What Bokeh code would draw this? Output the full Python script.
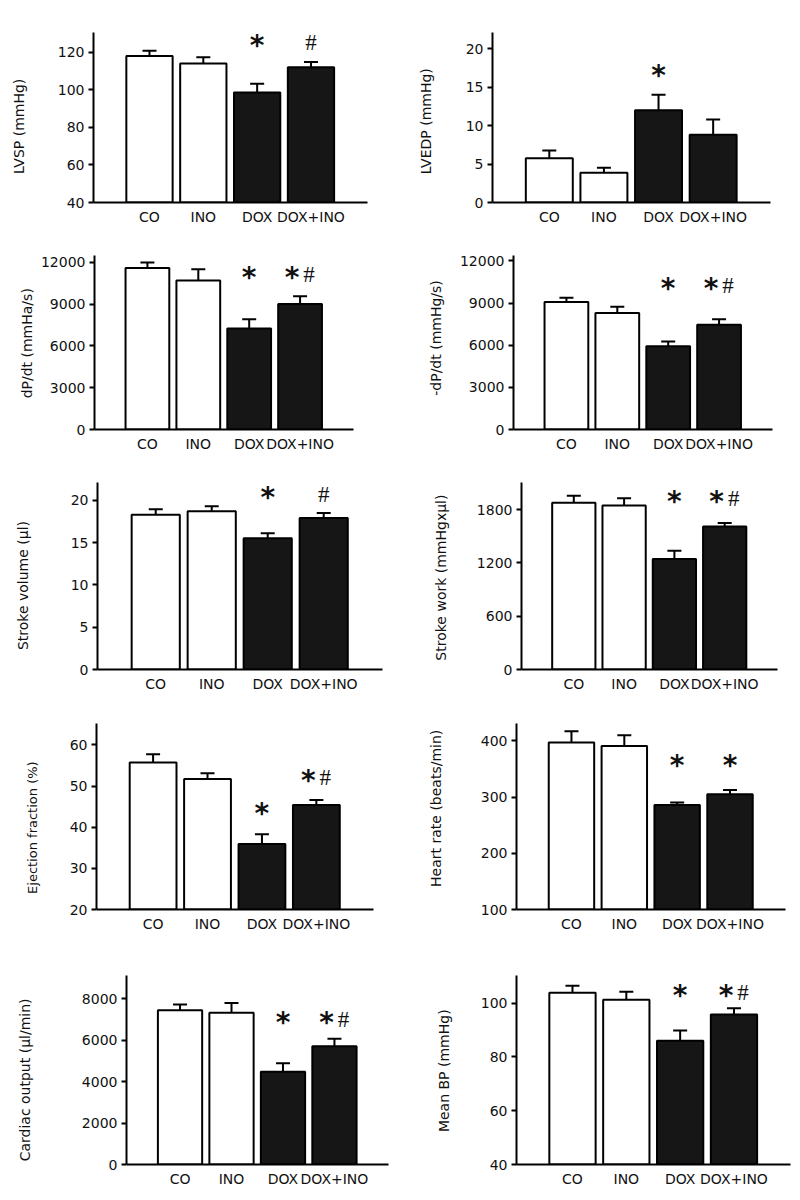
import math
from bokeh.plotting import figure
from bokeh.layouts import column, row
from bokeh.models import FixedTicker, ColumnDataSource, Range1d
from bokeh.core.properties import value
from bokeh.embed import file_html
from bokeh.resources import INLINE

# ---------------- data ----------------
groups = ["CO", "INO", "DOX", "DOX+INO"]
bar_colors = ["white", "white", "#161616", "#161616"]

lvsp_mean = [118, 114, 98.6, 112]
lvsp_sem = [2.8, 3.3, 4.6, 2.8]
lvsp_marks = ["", "", "*", "#"]
lvsp_ticks = [40, 60, 80, 100, 120]

lvedp_mean = [5.75, 3.86, 12.0, 8.8]
lvedp_sem = [1.0, 0.65, 2.0, 2.0]
lvedp_marks = ["", "", "*", ""]
lvedp_ticks = [0, 5, 10, 15, 20]

dpdt_mean = [11600, 10700, 7250, 9020]
dpdt_sem = [400, 820, 670, 560]
dpdt_marks = ["", "", "*", "*#"]
dpdt_ticks = [0, 3000, 6000, 9000, 12000]

ndpdt_mean = [9080, 8290, 5930, 7460]
ndpdt_sem = [290, 450, 340, 380]
ndpdt_marks = ["", "", "*", "*#"]
ndpdt_ticks = [0, 3000, 6000, 9000, 12000]

sv_mean = [18.3, 18.7, 15.5, 17.9]
sv_sem = [0.65, 0.6, 0.6, 0.6]
sv_marks = ["", "", "*", "#"]
sv_ticks = [0, 5, 10, 15, 20]

sw_mean = [1880, 1848, 1245, 1612]
sw_sem = [77, 82, 93, 40]
sw_marks = ["", "", "*", "*#"]
sw_ticks = [0, 600, 1200, 1800]

ef_mean = [55.7, 51.7, 35.9, 45.4]
ef_sem = [2.0, 1.4, 2.4, 1.2]
ef_marks = ["", "", "*", "*#"]
ef_ticks = [20, 30, 40, 50, 60]

hr_mean = [397, 391, 286, 305]
hr_sem = [20, 19, 4.6, 7.6]
hr_marks = ["", "", "*", "*"]
hr_ticks = [100, 200, 300, 400]

co_mean = [7440, 7315, 4465, 5700]
co_sem = [270, 475, 415, 367]
co_marks = ["", "", "*", "*#"]
co_ticks = [0, 2000, 4000, 6000, 8000]

bp_mean = [103.9, 101.3, 86, 95.8]
bp_sem = [2.6, 3.0, 3.8, 2.3]
bp_marks = ["", "", "*", "*#"]
bp_ticks = [40, 60, 80, 100]

# ---------------- layout ----------------
ROWS = [0, 232, 462, 698, 948, 1196]
COLS = [0, 398]
COL_W = 398
X0, X1 = -1.04, 4.05
BAR_W = 0.86
FONT = "DejaVu Sans"

# frame = (left, right, top, bottom) page px; lab = centre of y title; split = end of title strip
panels = [
    dict(label="LVSP (mmHg)", mean=lvsp_mean, sem=lvsp_sem, marks=lvsp_marks, ticks=lvsp_ticks,
         yr=(40, 130.5), mark_y=[0, 0, 125, 125], frame=(93, 367, 13, 203), r=0, c=0,
         lab=(18, 128), split=40),
    dict(label="LVEDP (mmHg)", mean=lvedp_mean, sem=lvedp_sem, marks=lvedp_marks, ticks=lvedp_ticks,
         yr=(0, 22.1), mark_y=[0, 0, 16.9, 0], frame=(492, 770, 32, 202), r=0, c=1,
         lab=(425, 121), split=448),
    dict(label="dP/dt (mmHa/s)", mean=dpdt_mean, sem=dpdt_sem, marks=dpdt_marks, ticks=dpdt_ticks,
         yr=(0, 12500), mark_y=[0, 0, 11100, 11100], frame=(94, 353, 255, 434), r=1, c=0,
         lab=(26, 348), split=37),
    dict(label="-dP/dt (mmHg/s)", mean=ndpdt_mean, sem=ndpdt_sem, marks=ndpdt_marks, ticks=ndpdt_ticks,
         yr=(0, 12380), mark_y=[0, 0, 10270, 10270], frame=(513, 772, 245, 429), r=1, c=1,
         lab=(435, 341), split=451),
    dict(label="Stroke volume (µl)", mean=sv_mean, sem=sv_sem, marks=sv_marks, ticks=sv_ticks,
         yr=(0, 22.1), mark_y=[0, 0, 20.7, 20.7], frame=(97, 382, 482, 669), r=2, c=0,
         lab=(22, 592), split=50),
    dict(label="Stroke work (mmHgxµl)", mean=sw_mean, sem=sw_sem, marks=sw_marks, ticks=sw_ticks,
         yr=(0, 2107), mark_y=[0, 0, 1930, 1930], frame=(521, 777, 479, 669), r=2, c=1,
         lab=(440, 582), split=462),
    dict(label="Ejection fraction (%)", mean=ef_mean, sem=ef_sem, marks=ef_marks, ticks=ef_ticks,
         yr=(20, 65.2), mark_y=[0, 0, 44, 52], frame=(96, 373, 722, 909), r=3, c=0,
         lab=(32, 838), split=52, lab_size="13px"),
    dict(label="Heart rate (beats/min)", mean=hr_mean, sem=hr_sem, marks=hr_marks, ticks=hr_ticks,
         yr=(100, 431), mark_y=[0, 0, 361, 361], frame=(516, 785, 723, 909), r=3, c=1,
         lab=(435, 812), split=460),
    dict(label="Cardiac output (µl/min)", mean=co_mean, sem=co_sem, marks=co_marks, ticks=co_ticks,
         yr=(0, 9110), mark_y=[0, 0, 7000, 7000], frame=(126, 388, 973, 1165), r=4, c=0,
         lab=(24, 1085), split=56),
    dict(label="Mean BP (mmHg)", mean=bp_mean, sem=bp_sem, marks=bp_marks, ticks=bp_ticks,
         yr=(40, 110.3), mark_y=[0, 0, 104, 104], frame=(516, 790, 975, 1164), r=4, c=1,
         lab=(443, 1073), split=465),
]


def base_fig(**kw):
    p = figure(output_backend="svg", toolbar_location=None, title=None, **kw)
    p.outline_line_color = None
    p.background_fill_color = "white"
    p.border_fill_color = "white"
    return p


def make_title_strip(s):
    x0 = COLS[s["c"]]
    top, bot = ROWS[s["r"]], ROWS[s["r"] + 1]
    w, h = s["split"] - x0, bot - top
    p = base_fig(width=w, height=h, x_range=Range1d(0, w), y_range=Range1d(0, h),
                 x_axis_type=None, y_axis_type=None,
                 min_border_left=0, min_border_right=0, min_border_top=0, min_border_bottom=0)
    p.grid.visible = False
    lx, ly = s["lab"]
    p.text(x=[lx - x0], y=[bot - ly], text=[s["label"]], angle=math.pi / 2,
           text_align="center", text_baseline="middle",
           text_font=value(FONT), text_font_size=s.get("lab_size", "14px"), text_color="#111111")
    return p


def make_panel(s):
    fl, fr, ft, fb = s["frame"]
    fig_left = s["split"]
    fig_right = COLS[s["c"]] + COL_W
    top, bot = ROWS[s["r"]], ROWS[s["r"] + 1]
    ymin, ymax = s["yr"]
    p = base_fig(width=fig_right - fig_left, height=bot - top,
                 x_range=Range1d(X0, X1), y_range=Range1d(ymin, ymax),
                 min_border_left=fl - fig_left, min_border_right=fig_right - fr,
                 min_border_top=ft - top, min_border_bottom=bot - fb)
    p.grid.visible = False

    xs = list(range(len(groups)))
    tops = [m + e for m, e in zip(s["mean"], s["sem"])]
    src = ColumnDataSource(dict(x=xs, mean=s["mean"], top=tops, color=bar_colors,
                                base=[ymin] * len(xs)))
    p.segment(x0="x", y0="mean", x1="x", y1="top", source=src, line_color="black", line_width=2)
    p.scatter(x="x", y="top", marker="dash", size=14, line_width=2, line_color="black", source=src)
    p.vbar(x="x", top="mean", bottom="base", width=BAR_W, fill_color="color",
           line_color="black", line_width=2, source=src)

    # significance marks
    sx, sy, so, hx, hy, ho = [], [], [], [], [], []
    for i, (m, my) in enumerate(zip(s["marks"], s["mark_y"])):
        both = "*" in m and "#" in m
        if "*" in m:
            sx.append(i); sy.append(my); so.append(-8 if both else 0)
        if "#" in m:
            hx.append(i); hy.append(my); ho.append(9 if both else 0)
    if sx:
        p.text(x="x", y="y", x_offset="xo", text=value("*"),
               source=ColumnDataSource(dict(x=sx, y=sy, xo=so)),
               text_font=value("DejaVu Sans"), text_font_style="bold", text_font_size="28px",
               text_align="center", text_baseline="middle", y_offset=3, text_color="#111111")
    if hx:
        p.text(x="x", y="y", x_offset="xo", text=value("#"),
               source=ColumnDataSource(dict(x=hx, y=hy, xo=ho)),
               text_font=value("Liberation Serif"), text_font_size="23px",
               text_align="center", text_baseline="middle", y_offset=0, text_color="#111111")

    # axes
    p.xaxis.ticker = FixedTicker(ticks=xs)
    p.xaxis.major_label_overrides = {i: g for i, g in enumerate(groups)}
    p.xaxis.major_tick_out = 0
    p.xaxis.major_tick_in = 0
    p.xaxis.minor_tick_line_color = None
    p.xaxis.major_label_standoff = 6

    p.yaxis.ticker = FixedTicker(ticks=s["ticks"])
    p.yaxis.major_tick_out = 5
    p.yaxis.major_tick_in = 0
    p.yaxis.major_tick_line_width = 2
    p.yaxis.minor_tick_line_color = None
    p.yaxis.major_label_standoff = 4

    for ax in (p.xaxis, p.yaxis):
        ax.axis_line_width = 2
        ax.axis_line_color = "black"
        ax.major_label_text_font = FONT
        ax.major_label_text_font_size = "14px"
        ax.major_label_text_color = "#111111"
    p.xaxis.major_tick_line_color = None
    p.yaxis.major_tick_line_color = "black"
    return p


rows = []
for i in range(5):
    left, right = panels[2 * i], panels[2 * i + 1]
    rows.append(row(make_title_strip(left), make_panel(left),
                    make_title_strip(right), make_panel(right)))
layout = column(*rows)

open("out.html", "w").write(file_html(layout, INLINE))
